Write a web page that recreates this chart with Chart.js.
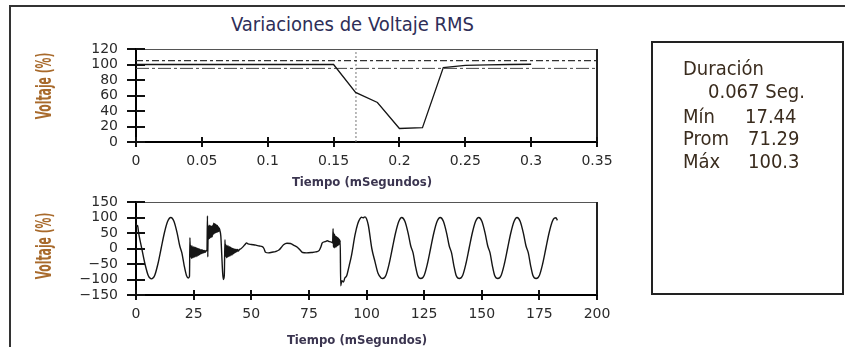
<!DOCTYPE html>
<html>
<head>
<meta charset="utf-8">
<script src="https://cdn.jsdelivr.net/npm/chart.js@4.4.1/dist/chart.umd.min.js"></script>
<style>
  html, body { margin: 0; padding: 0; background: #fff; }
  #stage { position: relative; width: 845px; height: 347px; overflow: hidden; background: #fff; }
  #stage canvas { position: absolute; left: 0; top: 0; }
  .frame { position: absolute; left: 9px; top: 5px; width: 900px; height: 400px;
           border-left: 2px solid #333; border-top: 2px solid #333; }
  .title { position: absolute; left: 231px; top: 14px; font: 20px 'DejaVu Sans Condensed', 'DejaVu Sans', sans-serif;
           color: #2e2e58; white-space: nowrap; line-height: 20px; }
  .ylab { position: absolute; white-space: nowrap; color: #a86a2c;
          font: bold 12px 'Liberation Sans Narrow', 'DejaVu Sans Condensed', sans-serif; line-height: 12px;
          transform: translate(-50%, -50%) rotate(-90deg) scaleY(1.8); }
  .xlab { position: absolute; white-space: nowrap; color: #3b3550;
          font: bold 13px 'DejaVu Sans Condensed', 'DejaVu Sans', sans-serif; line-height: 14px;
          transform: translate(-50%, -50%); }
  .box { position: absolute; left: 651px; top: 41px; width: 193px; height: 254px; box-sizing: border-box;
         border: 2px solid #222; }
  .info { position: absolute; white-space: nowrap; color: #3a2c1e; line-height: 20px;
          font: 20px 'DejaVu Sans Condensed', 'DejaVu Sans', sans-serif; }
</style>
</head>
<body>
<div id="stage">
  <div class="frame"></div>
  <div class="title">Variaciones de Voltaje RMS</div>
  <canvas id="rmsChart" width="845" height="347"></canvas>
  <canvas id="waveChart" width="845" height="347"></canvas>
  <div class="ylab" style="left:44px; top:86px;">Voltaje (%)</div>
  <div class="ylab" style="left:44px; top:246px;">Voltaje (%)</div>
  <div class="xlab" style="left:362px; top:182px;">Tiempo (mSegundos)</div>
  <div class="xlab" style="left:357px; top:340px;">Tiempo (mSegundos)</div>
  <div class="box"></div>
  <div class="info" style="left:683px; top:56px;">Duración</div>
  <div class="info" style="left:708px; top:79px;">0.067 Seg.</div>
  <div class="info" style="left:683px; top:104px;">Mín</div>
  <div class="info" style="left:745px; top:104px;">17.44</div>
  <div class="info" style="left:683px; top:126px;">Prom</div>
  <div class="info" style="left:748px; top:126px;">71.29</div>
  <div class="info" style="left:683px; top:149px;">Máx</div>
  <div class="info" style="left:748px; top:149px;">100.3</div>
</div>

<script>
// ---- RMS voltage per cycle (time in seconds, voltage in % of nominal) ----
const rmsTime = [0, 0.0167, 0.0333, 0.05, 0.0667, 0.0833, 0.1, 0.1167, 0.1333, 0.15,
                 0.1667, 0.1833, 0.2, 0.2175, 0.2333, 0.25, 0.2667, 0.2833, 0.3];
const rmsVoltage = [100, 100, 100, 100, 100, 100, 100, 100, 100, 100,
                    64, 51, 17.44, 18.5, 96, 99, 99.5, 100, 100.3];
const limitLevels = [105, 95];          // upper / lower threshold
const eventMarkTime = 0.167;            // start of the sag
const rmsXTicks = [0, 0.05, 0.1, 0.15, 0.2, 0.25, 0.3, 0.35];
const rmsXTickLabels = ['0', '0.05', '0.1', '0.15', '0.2', '0.25', '0.3', '0.35'];
const rmsYTicks = [0, 20, 40, 60, 80, 100, 120];
const rmsYTickLabels = ['0', '20', '40', '60', '80', '100', '120'];

// ---- Instantaneous waveform (time in ms, voltage in %) ----
const waveTime = [
  0, 0.4, 0.7, 1.1, 2.5, 3.9, 5.3, 6.7, 8.1, 9.5, 10.9, 12.3, 13.7, 15.1, 16.5, 17.9, 19.0, 19.9, 20.9, 21.9, 22.7, 23.2,
  23.4, 23.6, 23.85, 24.1, 24.35, 24.6, 24.85, 25.1, 25.35, 25.6, 25.85, 26.1, 26.35, 26.6, 26.85, 27.1, 27.35, 27.6,
  27.85, 28.1, 28.35, 28.6, 28.85, 29.1, 29.35, 29.6, 29.85, 30.1, 30.4, 30.8,
  31.0, 31.15, 31.3, 31.5, 31.7, 31.9, 32.1, 32.3, 32.5, 32.7, 32.9, 33.1, 33.3, 33.5, 33.7, 33.9, 34.1, 34.3, 34.5,
  34.7, 34.9, 35.1, 35.3, 35.5, 35.7, 35.9, 36.1, 36.4, 36.8, 37.2, 37.6, 37.9, 38.3, 38.6,
  38.8, 39.0, 39.25, 39.5, 39.75, 40.0, 40.25, 40.5, 40.75, 41.0, 41.25, 41.5, 41.75, 42.0, 42.25, 42.5, 42.75, 43.0,
  43.25, 43.5, 43.75, 44.0, 44.4, 44.8,
  45.5, 46.5, 47.4, 48.0, 48.6, 50.0, 52.0, 53.5, 54.8, 55.5, 56.2, 57.5, 59.0, 60.5, 62.0, 63.0, 64.0, 65.5, 67.0,
  68.5, 70.0, 71.2, 72.3, 74.0, 76.0, 78.0, 79.5, 80.2, 80.8, 82.0, 83.0, 84.0, 85.0,
  85.3, 85.5, 85.65, 85.8, 86.0, 86.2, 86.4, 86.6, 86.8, 87.0, 87.2, 87.4, 87.6, 87.8, 88.0, 88.2, 88.4, 88.6,
  88.8, 89.3, 90.0, 90.6, 91.4, 92.5, 93.5, 95.0, 96.2, 97.2, 97.8, 98.5, 99.3, 100.0, 100.8, 102.3, 103.7, 105.0,
  106.2, 107.0, 108.4, 109.8, 111.2, 112.6, 114.0, 115.3, 116.7, 118.1, 119.2, 120.2, 121.2, 122.2, 123.6, 125.0,
  126.4, 127.8, 129.2, 130.6, 132.0, 133.4, 134.8, 135.9, 136.9, 137.9, 138.9, 140.3, 141.7, 143.1, 144.5, 145.9,
  147.3, 148.7, 150.1, 151.5, 152.6, 153.6, 154.6, 155.6, 157.0, 158.4, 159.8, 161.2, 162.6, 164.0, 165.3, 166.7,
  168.1, 169.2, 170.2, 171.2, 172.2, 173.6, 175.0, 176.4, 177.8, 179.2, 180.6, 181.5, 182.2, 182.8
];
const waveVoltage = [
  80, 72, 74, 52, 0, -50, -87, -98, -87, -50, 0, 50, 87, 100, 87, 48, 8, -14, -55, -87, -95, -90,
  35, -28, 10, -32, 8, -30, 6, -29, 4, -27, 3, -26, 2, -24, 0, -22, -1, -20,
  -3, -18, -4, -16, -5, -15, -6, -13, -6, -12, -8, -5,
  105, -27, 72, 30, 75, 32, 74, 35, 73, 36, 72, 38, 75, 45, 82, 48, 80, 50, 78,
  52, 76, 52, 74, 54, 70, 55, 66, 58, 40, -20, -80, -100, -88, 28,
  -25, 12, -30, 10, -28, 8, -26, 6, -24, 4, -22, 2, -20, 0, -17, -1, -15, -2,
  -12, -3, -10, -3, -8, -4,
  -1, 6, 14, 18, 15, 13, 11, 8, 6, 0, -12, -14, -12, -10, -5, 3, 12, 17, 16,
  10, 4, -5, -13, -14, -13, -11, -6, 5, 18, 22, 25, 22, 20,
  18, 64, 5, 50, 2, 45, 4, 40, 5, 38, 8, 36, 10, 33, 12, 30, 15, 26,
  -120, -104, -108, -95, -88, -55, -22, 43, 80, 96, 101, 99, 102, 96, 75, 0, -43, -80,
  -94, -97, -87, -50, 0, 50, 87, 100, 87, 48, 8, -14, -55, -87, -97, -87,
  -50, 0, 50, 87, 100, 87, 48, 8, -14, -55, -87, -97, -87, -50, 0, 50,
  87, 100, 87, 48, 8, -14, -55, -87, -97, -87, -50, 0, 50, 87, 100, 87,
  48, 8, -14, -55, -87, -97, -87, -50, 0, 50, 87, 98, 99, 91
];
const waveXTicks = [0, 25, 50, 75, 100, 125, 150, 175, 200];
const waveXTickLabels = ['0', '25', '50', '75', '100', '125', '150', '175', '200'];
const waveYTicks = [-150, -100, -50, 0, 50, 100, 150];
const waveYTickLabels = ['\u2212150', '\u2212100', '\u221250', '0', '50', '100', '150'];

// Plot frame: thin top edge, right edge, and tick marks that cross into the plot.
const plotFrame = {
  id: 'plotFrame',
  afterDraw(chart, args, opts) {
    const { ctx, chartArea: a, scales: { x, y } } = chart;
    ctx.save();
    ctx.strokeStyle = '#555';
    ctx.lineWidth = 1;
    ctx.beginPath();
    ctx.moveTo(a.left, Math.round(a.top) + 0.5);
    ctx.lineTo(a.right, Math.round(a.top) + 0.5);
    ctx.stroke();
    ctx.strokeStyle = '#222';
    ctx.lineWidth = 2;
    ctx.beginPath();
    ctx.moveTo(Math.round(a.right), a.top);
    ctx.lineTo(Math.round(a.right), a.bottom);
    ctx.stroke();
    ctx.strokeStyle = '#111';
    ctx.lineWidth = 2;
    ctx.beginPath();
    x.ticks.forEach(t => {
      const px = Math.round(x.getPixelForValue(t.value));
      ctx.moveTo(px, a.bottom);
      ctx.lineTo(px, a.bottom - opts.xIn);
    });
    y.ticks.forEach(t => {
      const py = Math.round(y.getPixelForValue(t.value));
      ctx.moveTo(a.left, py);
      ctx.lineTo(a.left + opts.yIn, py);
    });
    ctx.stroke();
    ctx.restore();
  }
};

const tickFont = { family: "'DejaVu Sans', sans-serif", size: 14 };

function axisX(ticks, labels) {
  return {
    type: 'linear',
    position: 'bottom',
    min: ticks[0],
    max: ticks[ticks.length - 1],
    afterBuildTicks: s => { s.ticks = ticks.map(v => ({ value: v })); },
    afterFit: s => { s.height = 40; },
    ticks: {
      autoSkip: false, maxRotation: 0, padding: 6, color: '#2a2a2a', font: tickFont,
      callback: (v, i) => labels[i]
    },
    grid: { drawOnChartArea: false, drawTicks: true, tickLength: 5, color: '#111', lineWidth: 2 },
    border: { display: true, color: '#000', width: 2 }
  };
}

function axisY(ticks, labels) {
  return {
    type: 'linear',
    position: 'left',
    min: ticks[0],
    max: ticks[ticks.length - 1],
    afterBuildTicks: s => { s.ticks = ticks.map(v => ({ value: v })); },
    afterFit: s => { s.width = 136; },
    ticks: {
      autoSkip: false, padding: 9, color: '#2a2a2a', font: tickFont,
      callback: (v, i) => labels[i]
    },
    grid: { drawOnChartArea: false, drawTicks: true, tickLength: 9, color: '#111', lineWidth: 2 },
    border: { display: true, color: '#000', width: 2 }
  };
}

const common = {
  responsive: false,
  animation: false,
  devicePixelRatio: 1,
  events: [],
  plugins: { legend: { display: false }, tooltip: { enabled: false }, title: { display: false },
             plotFrame: { xIn: 5, yIn: 9 } },
  elements: { point: { radius: 0 } }
};

const xEnd = rmsXTicks[rmsXTicks.length - 1];
const yTop = rmsYTicks[rmsYTicks.length - 1];

new Chart(document.getElementById('rmsChart'), {
  type: 'line',
  data: {
    datasets: [
      {
        data: rmsTime.map((t, i) => ({ x: t, y: rmsVoltage[i] })),
        borderColor: '#151515', borderWidth: 1.3, tension: 0
      },
      {
        data: [{ x: rmsXTicks[0], y: limitLevels[0] }, { x: xEnd, y: limitLevels[0] }],
        borderColor: '#333', borderWidth: 1.2, borderDash: [7, 3, 3, 3]
      },
      {
        data: [{ x: rmsXTicks[0], y: limitLevels[1] }, { x: xEnd, y: limitLevels[1] }],
        borderColor: '#444', borderWidth: 1, borderDash: [13, 3, 3, 3]
      },
      {
        data: [{ x: eventMarkTime, y: rmsYTicks[0] }, { x: eventMarkTime, y: yTop }],
        borderColor: '#777', borderWidth: 1, borderDash: [2, 2]
      }
    ]
  },
  options: Object.assign({}, common, {
    layout: { padding: { top: 49, left: 0, right: 248, bottom: 165 } },
    scales: { x: axisX(rmsXTicks, rmsXTickLabels), y: axisY(rmsYTicks, rmsYTickLabels) }
  }),
  plugins: [plotFrame]
});

new Chart(document.getElementById('waveChart'), {
  type: 'line',
  data: {
    datasets: [
      {
        data: waveTime.map((t, i) => ({ x: t, y: waveVoltage[i] })),
        borderColor: '#151515', borderWidth: 1.4, cubicInterpolationMode: 'monotone'
      }
    ]
  },
  options: Object.assign({}, common, {
    layout: { padding: { top: 202, left: 0, right: 248, bottom: 12 } },
    scales: { x: axisX(waveXTicks, waveXTickLabels), y: axisY(waveYTicks, waveYTickLabels) }
  }),
  plugins: [plotFrame]
});
</script>
</body>
</html>
